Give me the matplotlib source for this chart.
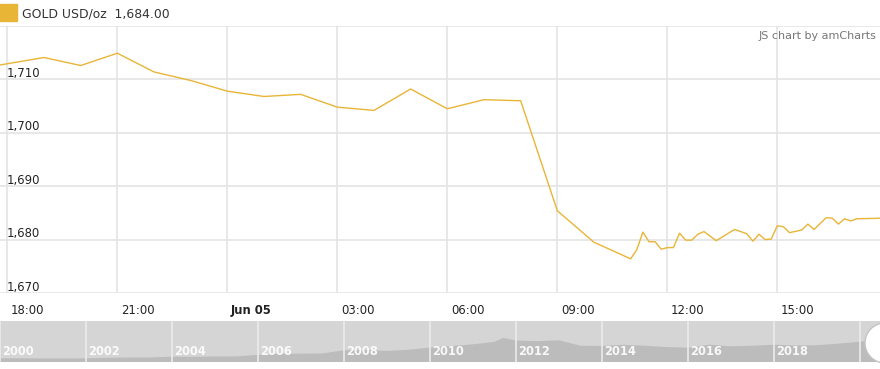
import numpy as np
import pandas as pd
import matplotlib.pyplot as plt
from matplotlib.patches import Rectangle, Circle
from matplotlib.transforms import ScaledTranslation, IdentityTransform, blended_transform_factory

# gold price, Jun 04 - Jun 05 (USD/oz)
times = ['2020-06-04 17:48', '2020-06-04 19:00', '2020-06-04 20:00', '2020-06-04 21:00',
         '2020-06-04 22:00', '2020-06-04 23:00', '2020-06-05 00:00', '2020-06-05 01:00',
         '2020-06-05 02:00', '2020-06-05 03:00', '2020-06-05 04:00', '2020-06-05 05:00',
         '2020-06-05 06:00', '2020-06-05 07:00', '2020-06-05 08:00', '2020-06-05 09:00',
         '2020-06-05 10:00', '2020-06-05 11:00', '2020-06-05 11:10', '2020-06-05 11:20',
         '2020-06-05 11:30', '2020-06-05 11:40', '2020-06-05 11:50', '2020-06-05 12:00',
         '2020-06-05 12:10', '2020-06-05 12:20', '2020-06-05 12:30', '2020-06-05 12:40',
         '2020-06-05 12:50', '2020-06-05 13:00', '2020-06-05 13:20', '2020-06-05 13:50',
         '2020-06-05 14:10', '2020-06-05 14:20', '2020-06-05 14:30', '2020-06-05 14:40',
         '2020-06-05 14:50', '2020-06-05 15:00', '2020-06-05 15:10', '2020-06-05 15:20',
         '2020-06-05 15:40', '2020-06-05 15:50', '2020-06-05 16:00', '2020-06-05 16:20',
         '2020-06-05 16:30', '2020-06-05 16:40', '2020-06-05 16:50', '2020-06-05 17:00',
         '2020-06-05 17:10', '2020-06-05 17:48']
prices = [1712.7, 1714.1, 1712.6, 1714.9, 1711.4, 1709.8, 1707.8, 1706.8,
          1707.2, 1704.8, 1704.2, 1708.2, 1704.5, 1706.2, 1706.0, 1685.4,
          1679.5, 1676.4, 1678.1, 1681.4, 1679.6, 1679.6, 1678.2, 1678.5,
          1678.5, 1681.2, 1679.9, 1679.9, 1681.0, 1681.5, 1679.8, 1681.9,
          1681.1, 1679.7, 1681.0, 1680.0, 1680.1, 1682.6, 1682.4, 1681.3,
          1681.8, 1682.9, 1681.9, 1684.1, 1684.0, 1682.9, 1683.9, 1683.5,
          1683.9, 1684.0]

tick_times = ['2020-06-04 18:00', '2020-06-04 21:00', '2020-06-05 00:00', '2020-06-05 03:00',
              '2020-06-05 06:00', '2020-06-05 09:00', '2020-06-05 12:00', '2020-06-05 15:00']
tick_labels = ['18:00', '21:00', 'Jun 05', '03:00', '06:00', '09:00', '12:00', '15:00']
y_ticks = [1670, 1680, 1690, 1700, 1710, 1720]

# long-term history for the scrollbar
hist_years = [2000.0, 2000.5, 2001.0, 2001.5, 2002.0, 2002.5, 2003.0, 2003.5, 2004.0, 2004.5,
              2005.0, 2005.5, 2006.0, 2006.5, 2007.0, 2007.5, 2008.0, 2008.5, 2009.0, 2009.5,
              2010.0, 2010.5, 2011.0, 2011.5, 2011.7, 2012.0, 2012.5, 2013.0, 2013.5, 2014.0,
              2014.5, 2015.0, 2015.5, 2016.0, 2016.5, 2017.0, 2017.5, 2018.0, 2018.5, 2019.0,
              2019.5, 2020.0, 2020.5]
hist_gold = [285, 285, 270, 270, 280, 320, 350, 350, 410, 395,
             430, 430, 550, 630, 640, 660, 900, 930, 850, 940,
             1110, 1230, 1360, 1550, 1850, 1650, 1600, 1670, 1250, 1230,
             1320, 1250, 1150, 1100, 1330, 1200, 1250, 1330, 1270, 1290,
             1410, 1560, 1700]
year_labels = [2000, 2002, 2004, 2006, 2008, 2010, 2012, 2014, 2016, 2018]

W, H = 880, 369
fx = lambda px: px / W
fy = lambda py: 1 - py / H

fig = plt.figure(figsize=(W / 100, H / 100), dpi=100)

ax = fig.add_axes([0, fy(293), 1, (293 - 26) / H])
t = pd.to_datetime(times)
ax.plot(t, prices, color='#e8b537', lw=1.0, zorder=3)
ax.set_xlim(pd.Timestamp('2020-06-04 17:48'), pd.Timestamp('2020-06-05 17:48'))
ax.set_ylim(1670, 1720)
ax.set_yticks(y_ticks)
ax.set_xticks(pd.to_datetime(tick_times))
ax.set_xticklabels(tick_labels, ha='left', fontsize=8.4, color='#222')
ax.tick_params(axis='both', length=0, labelleft=False)
ax.tick_params(axis='x', pad=8)
ax.grid(color='#e4e4e4', lw=1.2)
for s in ax.spines.values():
    s.set_visible(False)

off = ScaledTranslation(0.035, 0, fig.dpi_scale_trans)
for lbl in ax.get_xticklabels():
    lbl.set_transform(lbl.get_transform() + off)
    if lbl.get_text() == 'Jun 05':
        lbl.set_fontweight('bold')

ytr = blended_transform_factory(ax.transAxes, ax.transData)
for v in y_ticks[:-1]:
    ax.text(0.007, v + 0.45, f'{v:,}', transform=ytr, fontsize=8.4, color='#222',
            ha='left', va='baseline')

# legend + credit
fig.add_artist(Rectangle((fx(0), fy(21)), fx(17), 17 / H, transform=fig.transFigure,
                         color='#e8b537'))
fig.text(fx(22), fy(14), 'GOLD USD/oz  1,684.00', fontsize=8.9, color='#333', va='center')
fig.text(fx(876), fy(36), 'JS chart by amCharts', fontsize=8.0, color='#777',
         ha='right', va='center')

# scrollbar
sax = fig.add_axes([0, fy(362), 1, 41 / H])
sax.set_facecolor('#d5d5d5')
sax.fill_between(hist_years, 0, hist_gold, color='#bcbcbc', lw=0)
sax.set_xlim(2000, 2000 + W / 43)
sax.set_ylim(0, 3150)
sax.set_xticks([])
sax.set_yticks([])
for s in sax.spines.values():
    s.set_visible(False)
str_ = blended_transform_factory(sax.transData, sax.transAxes)
for yr in year_labels + [2020]:
    sax.axvline(yr, color='#ebebeb', lw=1.2)
for yr in year_labels:
    sax.text(yr + 2 / 43, 0.25, str(yr), transform=str_, color='white', fontsize=8.3,
             fontweight='bold', va='center', ha='left', alpha=0.9)

fig.add_artist(Circle((885, H - 343), 20, transform=IdentityTransform(),
                      facecolor='white', edgecolor='#c4c4c4', lw=1, zorder=10))

fig.savefig('out.png', dpi=100)
